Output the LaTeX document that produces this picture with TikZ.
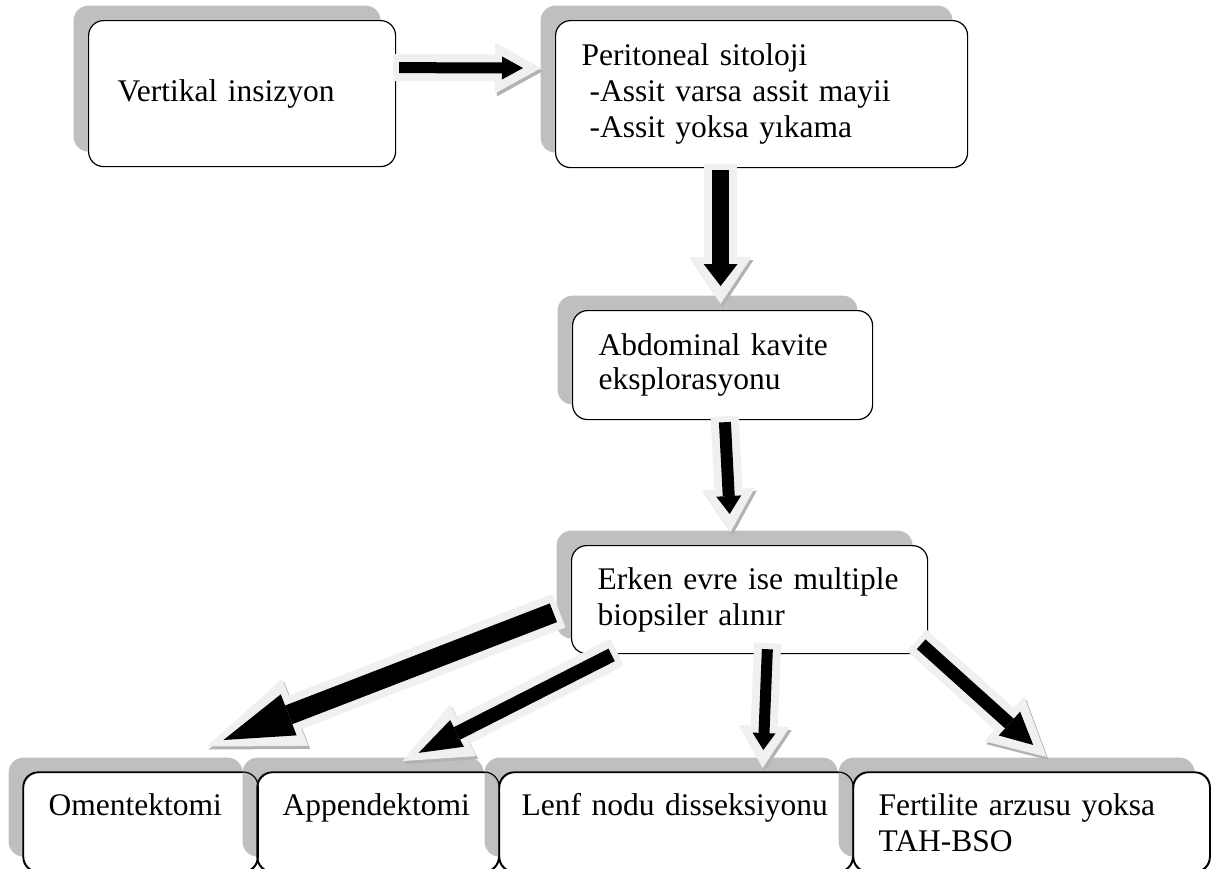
\documentclass[tikz,border=0pt]{standalone}
\usepackage{fontspec}
\setmainfont{Liberation Serif}
\usetikzlibrary{arrows.meta}
\usetikzlibrary{shadows}
\definecolor{halo}{gray}{0.94}
\definecolor{shade}{gray}{0.75}

\begin{document}
\begin{tikzpicture}[x=1pt,y=-1pt,font=\fontsize{31.5pt}{36pt}\selectfont,
  box/.style={draw,rounded corners=15pt,fill=white,line width=1.2pt,align=left,inner xsep=26pt,anchor=north west,
    general shadow={fill=shade,shadow xshift=-15pt,shadow yshift=15pt}},
  low/.style={box,text height=20pt,text depth=33pt,inner ysep=23pt},
  bigarrow/.style n args={3}{draw=halo,line width=#1+16pt,-{Triangle[length=#2+25pt,width=#3+28pt,line width=0pt]},
    preaction={draw=black!30,transform canvas={shift={(2,3)}}},
    postaction={draw=black,line width=#1,shorten <=6pt,shorten >=18pt,-{Triangle[length=#2,width=#3,line width=0pt]}}}]
    \useasboundingbox (0,0) rectangle (1215,868);
    \clip (0,0) rectangle (1215,868);
    \node[box,inner xsep=29pt,text width=249pt,minimum height=146pt] (vert) at (88,20) {Vertikal insizyon};
    \node[box,text width=360pt,minimum height=147pt] (perit) at (555,20)
      {Peritoneal sitoloji\\\hspace*{8pt}-Assit varsa assit mayii\\\hspace*{8pt}-Assit yoksa yıkama};
    \node[box,text width=248pt,minimum height=109pt,font=\fontsize{31.5pt}{34pt}\selectfont] (abd) at (572,310)
      {Abdominal kavite\\eksplorasyonu};
    \node[box,text width=304pt,minimum height=108pt] (erken) at (571,545) {Erken evre ise multiple\\biopsiler alınır};
    \node[low,inner xsep=25pt,text width=184pt] (omen) at (23,772) {Omentektomi};
    \node[low,inner xsep=25pt,text width=191pt] (appen) at (257,772) {Appendektomi};
    \node[low,inner xsep=22pt,text width=309pt] (lenf) at (499,772) {Lenf nodu disseksiyonu};
    \node[low,inner xsep=25pt,text width=306pt] (fert) at (853,772) {Fertilite arzusu yoksa\\TAH-BSO};
    \foreach \b in {omen,appen,lenf,fert}
      \draw[line width=1.2pt,rounded corners=15pt] (\b.north west) rectangle (\b.south east);
    \draw[bigarrow={11pt}{21pt}{23pt}] ([xshift=-3pt,yshift=26pt]vert.east) -- ([xshift=-14pt,yshift=26pt]perit.west);
    \draw[bigarrow={17pt}{22pt}{34pt}] ([xshift=-41pt,yshift=4pt]perit.south) -- ([xshift=-2pt,yshift=6pt]abd.north);
    \draw[bigarrow={12pt}{18pt}{25pt}] ([xshift=2pt,yshift=4pt]abd.south) -- ([xshift=-19pt,yshift=13pt]erken.north);
    \draw[bigarrow={20pt}{70pt}{44pt}] ([xshift=-12pt,yshift=-11pt]erken.west) -- ([xshift=66pt,yshift=25.5pt]omen.north);
    \draw[bigarrow={14pt}{43pt}{30pt}] ([xshift=46pt,yshift=2pt]erken.south west) -- ([xshift=24.5pt,yshift=11pt]appen.north);
    \draw[bigarrow={11pt}{17pt}{23pt}] ([xshift=18pt,yshift=11pt]erken.south) -- ([xshift=86.5pt,yshift=4pt]lenf.north);
    \draw[bigarrow={13pt}{32pt}{32pt}] ([xshift=-11.5pt,yshift=14pt]erken.south east) -- ([xshift=15pt,yshift=15pt]fert.north);
\end{tikzpicture}
\end{document}
